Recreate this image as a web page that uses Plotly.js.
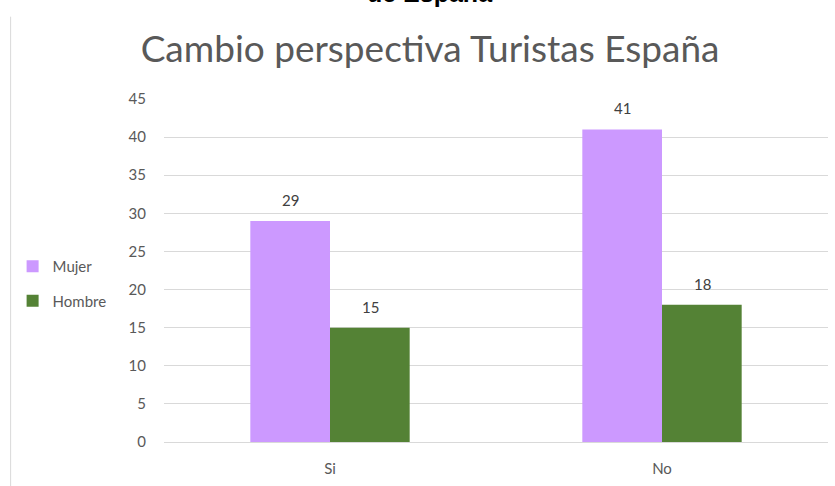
<!DOCTYPE html>
<html><head><meta charset="utf-8">
<script src="https://cdn.plot.ly/plotly-3.0.1.min.js"></script>
<style>body{margin:0;padding:0;background:#fff}#chart{width:835px;height:486px}</style>
</head><body><div id="chart"></div>
<script>
const categories = ["Si", "No"];
const mujer = [29, 41];
const hombre = [15, 18];
const seriesNames = ["Mujer", "Hombre"];
const titleText = "Cambio perspectiva Turistas España";
const topText = "de España";

const FONT = "Lato, 'Open Sans', sans-serif";
const traces = [
  {type:"bar", name:seriesNames[0], x:categories, y:mujer, marker:{color:"#cc99ff"},
   legendgroup:"a", hoverinfo:"skip"},
  {type:"bar", name:seriesNames[1], x:categories, y:hombre, marker:{color:"#548235"},
   legendgroup:"b", hoverinfo:"skip"}
];
const labelAnns = [];
[[mujer,-40],[hombre,40]].forEach(([vals,dx]) => {
  vals.forEach((v,i) => labelAnns.push({
    x:categories[i], y:v, xref:"x", yref:"y", text:String(v), showarrow:false,
    xshift:dx, yshift:21, yanchor:"middle", font:{family:FONT,size:15,color:"#404040"}
  }));
});
const layout = {
  width:835, height:486,
  margin:{l:164, r:7, t:99, b:44, pad:0},
  paper_bgcolor:"#fff", plot_bgcolor:"#fff",
  font:{family:FONT, size:15, color:"#595959"},
  title:{text:titleText, font:{family:FONT,size:37,color:"#595959"}, x:0.515, xanchor:"center", y:0.9, yanchor:"middle"},
  barmode:"group", bargap:0.52, bargroupgap:0,
  xaxis:{type:"category", range:[-0.5,1.5], showgrid:false, zeroline:false, showline:false, ticks:"outside", ticklen:13, tickcolor:"rgba(0,0,0,0)", tickfont:{size:15,color:"#595959"}, fixedrange:true},
  yaxis:{range:[0,45], dtick:5, tick0:0, showgrid:true, gridcolor:"#d9d9d9", gridwidth:1, zeroline:true, zerolinecolor:"#d9d9d9", zerolinewidth:1, showline:false, ticks:"outside", ticklen:14, tickcolor:"rgba(0,0,0,0)", tickfont:{size:15,color:"#595959"}, fixedrange:true},
  showlegend:true,
  legend:{x:-0.228, xanchor:"left", y:0.56, yanchor:"top", font:{family:FONT,size:15,color:"#595959"}, tracegroupgap:12, traceorder:"grouped", itemwidth:30, bgcolor:"rgba(0,0,0,0)"},
  shapes:[{type:"line", xref:"paper", yref:"paper", x0:-0.231, x1:-0.231, y0:-0.13, y1:1.24, line:{color:"#d9d9d9", width:1}}],
  annotations:[{text:"<b>"+topText+"</b>", xref:"paper", yref:"paper", x:0.4006, y:1.262, xanchor:"center", yanchor:"bottom", showarrow:false, font:{family:"Liberation Sans, Arial, sans-serif", size:25, color:"#000"}}].concat(labelAnns)
};
Plotly.newPlot("chart", traces, layout, {displayModeBar:false, staticPlot:true});
</script></body></html>
